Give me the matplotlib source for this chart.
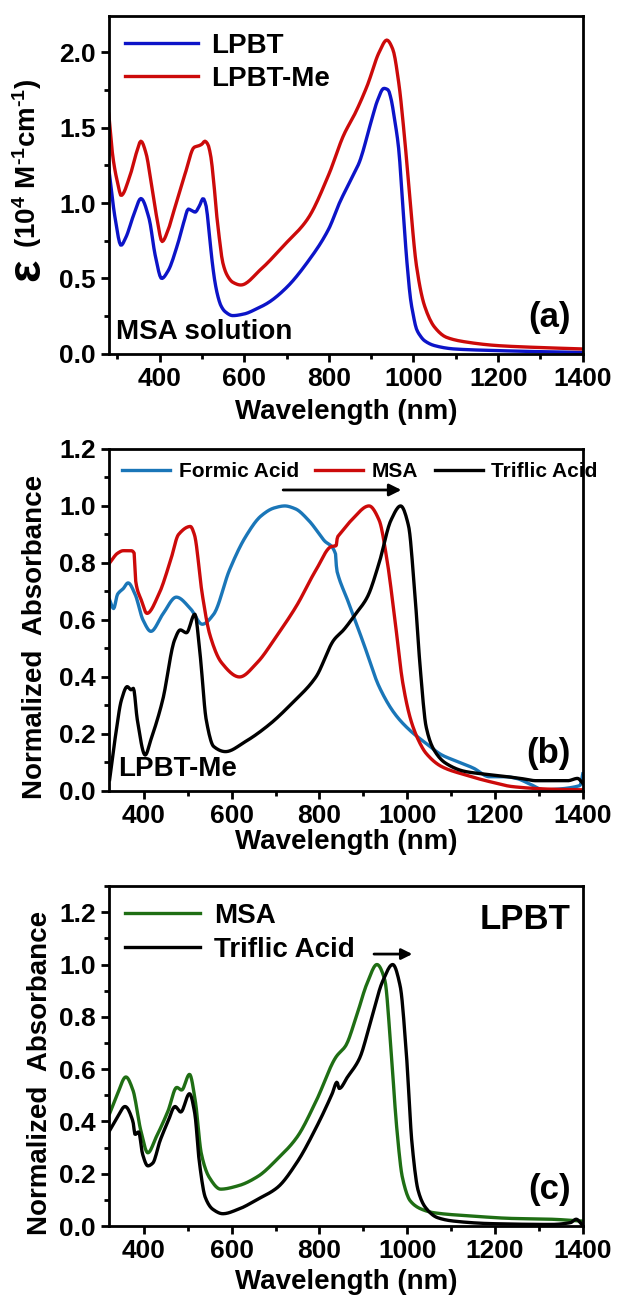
import numpy as np
import matplotlib
matplotlib.use("Agg")
import matplotlib.pyplot as plt
from matplotlib.ticker import MultipleLocator, FormatStrFormatter

plt.rcParams["font.family"] = ["Liberation Sans", "DejaVu Sans"]
plt.rcParams["font.weight"] = "bold"
plt.rcParams["mathtext.fontset"] = "custom"
plt.rcParams["mathtext.rm"] = "Liberation Sans:bold"
plt.rcParams["mathtext.it"] = "Liberation Sans:bold"
plt.rcParams["mathtext.bf"] = "Liberation Sans:bold"
plt.rcParams["mathtext.default"] = "rm"

# ---------------- (a) molar absorptivity in MSA ----------------
wl_lpbt = [280, 295, 309, 320, 340, 356, 375, 390, 405, 420, 442, 458, 468, 476, 484,
           494, 503, 510, 517, 524, 531, 538, 545, 555, 573, 600, 630, 657, 700, 750,
           800, 825, 853, 872, 900, 915, 930, 940, 947, 955, 965, 972, 979, 986, 993,
           1000, 1007, 1016, 1026, 1050, 1096, 1200, 1300, 1400]
eps_lpbt = [1.23, 0.90, 0.72, 0.77, 0.93, 1.03, 0.90, 0.65, 0.50, 0.55, 0.72, 0.88, 0.96,
            0.95, 0.94, 0.98, 1.03, 0.98, 0.81, 0.62, 0.475, 0.38, 0.32, 0.28, 0.254, 0.265,
            0.30, 0.34, 0.44, 0.61, 0.83, 1.00, 1.16, 1.27, 1.54, 1.68, 1.76, 1.75, 1.69,
            1.56, 1.36, 1.10, 0.81, 0.56, 0.365, 0.25, 0.166, 0.12, 0.088, 0.055, 0.033,
            0.022, 0.015, 0.01]

wl_lpbt_me = [280, 290, 302, 309, 330, 345, 356, 368, 381, 395, 406, 420, 433, 461, 482,
              493, 500, 507, 514, 521, 528, 535, 542, 549, 560, 573, 592, 639, 694, 750,
              800, 835, 863, 891, 919, 937, 951, 965, 979, 993, 1007, 1026, 1050, 1078,
              1129, 1200, 1283, 1400]
eps_lpbt_me = [1.59, 1.30, 1.12, 1.05, 1.18, 1.33, 1.41, 1.33, 1.12, 0.88, 0.745, 0.82,
               0.94, 1.20, 1.37, 1.38, 1.39, 1.41, 1.39, 1.31, 1.14, 0.92, 0.75, 0.61,
               0.52, 0.475, 0.457, 0.56, 0.72, 0.895, 1.19, 1.45, 1.60, 1.78, 2.00, 2.08,
               2.02, 1.80, 1.43, 0.98, 0.585, 0.32, 0.177, 0.11, 0.077, 0.055, 0.044, 0.033]

# ---------------- (b) LPBT-Me in three acids ----------------
wl_formic = [322, 331, 340, 353, 364, 380, 398, 416, 443, 474, 506, 533, 559, 595, 631,
             667, 697, 721, 745, 775, 810, 837, 839, 842, 864, 900, 936, 972, 1008, 1043,
             1079, 1115, 1151, 1187, 1223, 1249, 1276, 1312, 1348, 1384, 1394, 1400]
abs_formic = [0.67, 0.64, 0.69, 0.71, 0.73, 0.69, 0.60, 0.56, 0.62, 0.68, 0.64, 0.585,
              0.62, 0.775, 0.89, 0.965, 0.993, 1.00, 0.99, 0.95, 0.88, 0.83, 0.78, 0.76,
              0.67, 0.52, 0.366, 0.27, 0.21, 0.167, 0.126, 0.103, 0.08, 0.05, 0.05, 0.044,
              0.027, 0.004, 0.007, 0.015, 0.02, 0.06]

wl_msa_b = [322, 340, 353, 371, 378, 381, 394, 407, 434, 461, 479, 506, 515, 533, 550,
            577, 618, 658, 703, 748, 792, 828, 838, 841, 846, 873, 913, 936, 954, 972,
            990, 1008, 1025, 1043, 1079, 1133, 1187, 1241, 1330, 1400]
abs_msa_b = [0.80, 0.834, 0.843, 0.843, 0.834, 0.74, 0.67, 0.623, 0.69, 0.81, 0.90, 0.928,
             0.90, 0.69, 0.55, 0.45, 0.40, 0.45, 0.545, 0.65, 0.775, 0.858, 0.86, 0.89,
             0.90, 0.95, 1.00, 0.95, 0.81, 0.60, 0.378, 0.25, 0.18, 0.132, 0.085, 0.056,
             0.033, 0.015, 0.006, 0.004]

wl_triflic_b = [322, 335, 349, 362, 371, 376, 385, 403, 416, 443, 470, 483, 497, 516, 528,
                542, 559, 586, 631, 685, 739, 792, 833, 855, 882, 909, 936, 963, 985, 1003,
                1016, 1030, 1043, 1061, 1088, 1133, 1196, 1258, 1294, 1366, 1388, 1400]
abs_triflic_b = [0.04, 0.19, 0.32, 0.366, 0.355, 0.36, 0.25, 0.126, 0.18, 0.32, 0.53,
                 0.565, 0.555, 0.62, 0.48, 0.25, 0.156, 0.138, 0.173, 0.232, 0.31, 0.40,
                 0.53, 0.565, 0.62, 0.68, 0.80, 0.95, 1.00, 0.93, 0.72, 0.425, 0.226,
                 0.144, 0.097, 0.068, 0.056, 0.044, 0.036, 0.036, 0.044, 0.027]

# ---------------- (c) LPBT in two acids ----------------
wl_msa_c = [322, 340, 359, 375, 393, 409, 428, 455, 475, 486, 504, 517, 531, 549, 575,
            615, 660, 704, 749, 793, 838, 860, 882, 909, 931, 949, 962, 976, 989, 1007,
            1033, 1060, 1149, 1238, 1327, 1398]
abs_msa_c = [0.43, 0.506, 0.57, 0.52, 0.365, 0.28, 0.34, 0.44, 0.53, 0.52, 0.58, 0.48,
             0.276, 0.186, 0.141, 0.154, 0.19, 0.256, 0.34, 0.48, 0.647, 0.69, 0.79, 0.93,
             1.00, 0.94, 0.70, 0.378, 0.186, 0.096, 0.064, 0.051, 0.038, 0.029, 0.026, 0.019]

wl_triflic_c = [322, 340, 357, 375, 380, 388, 397, 409, 420, 437, 455, 471, 484, 504, 516,
                526, 540, 557, 580, 615, 660, 704, 749, 793, 829, 840, 845, 864, 891, 918,
                944, 967, 984, 998, 1011, 1025, 1042, 1069, 1105, 1194, 1327, 1372, 1385, 1398]
abs_triflic_c = [0.365, 0.417, 0.457, 0.40, 0.35, 0.36, 0.275, 0.23, 0.24, 0.327, 0.40,
                 0.457, 0.436, 0.506, 0.43, 0.25, 0.109, 0.064, 0.047, 0.064, 0.103, 0.147,
                 0.244, 0.378, 0.506, 0.55, 0.526, 0.57, 0.64, 0.79, 0.936, 1.00, 0.917,
                 0.66, 0.314, 0.135, 0.07, 0.032, 0.019, 0.009, 0.006, 0.013, 0.026, 0.006]


def smooth(x, y, n=400):
    """Monotone cubic (PCHIP-like) resampling so the traces look continuous."""
    x = np.asarray(x, float)
    y = np.asarray(y, float)
    h = np.diff(x)
    d = np.diff(y) / h
    m = np.zeros_like(y)
    for k in range(1, len(x) - 1):
        if d[k - 1] * d[k] > 0:
            w1 = 2 * h[k] + h[k - 1]
            w2 = h[k] + 2 * h[k - 1]
            m[k] = (w1 + w2) / (w1 / d[k - 1] + w2 / d[k])
    m[0], m[-1] = d[0], d[-1]
    xs = np.linspace(x[0], x[-1], n)
    idx = np.clip(np.searchsorted(x, xs) - 1, 0, len(x) - 2)
    t = (xs - x[idx]) / h[idx]
    h00 = 2 * t**3 - 3 * t**2 + 1
    h10 = t**3 - 2 * t**2 + t
    h01 = -2 * t**3 + 3 * t**2
    h11 = t**3 - t**2
    ys = (h00 * y[idx] + h10 * h[idx] * m[idx] + h01 * y[idx + 1]
          + h11 * h[idx] * m[idx + 1])
    return xs, ys


BLUE = "#0c14c8"
RED = "#cc0a0a"
FORMIC = "#1a76b8"
GREEN = "#1f6e14"
LW = 2.4
TICK_FS = 19
HY = "\u2010"  # typographic hyphen used in the unit superscripts

fig = plt.figure(figsize=(6.18, 12.96), dpi=100)
left, width = 0.176, 0.767
ax_a = fig.add_axes([left, 0.7269, width, 0.2608])
ax_b = fig.add_axes([left, 0.3897, width, 0.2639])
ax_c = fig.add_axes([left, 0.0540, width, 0.2623])


def style(ax, xmin, ymax, ymajor, yminor):
    ax.set_xlim(xmin, 1400)
    ax.set_ylim(0, ymax)
    ax.xaxis.set_major_locator(MultipleLocator(200))
    ax.xaxis.set_minor_locator(MultipleLocator(100))
    ax.yaxis.set_major_locator(MultipleLocator(ymajor))
    ax.yaxis.set_minor_locator(MultipleLocator(yminor))
    ax.yaxis.set_major_formatter(FormatStrFormatter("%.1f"))
    ax.tick_params(which="both", direction="out", top=False, right=False,
                   labelsize=TICK_FS, width=2.0)
    ax.tick_params(which="major", length=6)
    ax.tick_params(which="minor", length=3.5)
    for s in ax.spines.values():
        s.set_linewidth(2.0)
    for lab in ax.get_xticklabels() + ax.get_yticklabels():
        lab.set_fontweight("bold")


# (a)
ax_a.plot(*smooth(wl_lpbt, eps_lpbt), color=BLUE, lw=LW, label="LPBT")
ax_a.plot(*smooth(wl_lpbt_me, eps_lpbt_me), color=RED, lw=LW, label="LPBT-Me")
style(ax_a, 280, 2.24, 0.5, 0.25)
ax_a.legend(loc="upper left", frameon=False, fontsize=20, handlelength=2.6,
            handletextpad=0.5, labelspacing=0.25, borderaxespad=0.2,
            bbox_to_anchor=(0.0, 1.0))
ax_a.text(0.015, 0.025, "MSA solution", transform=ax_a.transAxes, fontsize=20,
          fontweight="bold", ha="left", va="bottom")
ax_a.text(0.975, 0.06, "(a)", transform=ax_a.transAxes, fontsize=25,
          fontweight="bold", ha="right", va="bottom")
ax_a.set_xlabel("Wavelength (nm)", fontsize=20, fontweight="bold")
ax_a.xaxis.set_label_coords(0.5, -0.172)
ax_a.xaxis.label.set_va("center")
ax_a.text(-0.172, 0.565, f"(10$^4$ M$^{{{HY}1}}$cm$^{{{HY}1}}$)",
          transform=ax_a.transAxes, rotation=90, fontsize=20, fontweight="bold",
          ha="center", va="center")
ax_a.text(-0.172, 0.25, "ε", transform=ax_a.transAxes, rotation=90, fontsize=34,
          fontweight="bold", ha="center", va="center")

# (b)
ax_b.plot(*smooth(wl_formic, abs_formic, 600), color=FORMIC, lw=LW, label="Formic Acid")
ax_b.plot(*smooth(wl_msa_b, abs_msa_b, 600), color=RED, lw=LW, label="MSA")
ax_b.plot(*smooth(wl_triflic_b, abs_triflic_b, 600), color="black", lw=LW,
          label="Triflic Acid")
style(ax_b, 320, 1.2, 0.2, 0.1)
ax_b.legend(loc="upper left", frameon=False, fontsize=15, ncol=3, handlelength=2.3,
            handletextpad=0.4, columnspacing=0.8, borderaxespad=0.25,
            bbox_to_anchor=(0.0, 1.0))
ax_b.annotate("", xy=(993, 1.056), xytext=(711, 1.056),
              arrowprops=dict(arrowstyle="-|>", color="black", lw=2.0,
                              mutation_scale=18))
ax_b.text(0.02, 0.025, "LPBT-Me", transform=ax_b.transAxes, fontsize=20,
          fontweight="bold", ha="left", va="bottom")
ax_b.text(0.975, 0.06, "(b)", transform=ax_b.transAxes, fontsize=25,
          fontweight="bold", ha="right", va="bottom")
ax_b.set_xlabel("Wavelength (nm)", fontsize=20, fontweight="bold")
ax_b.xaxis.set_label_coords(0.5, -0.149)
ax_b.xaxis.label.set_va("center")
ax_b.set_ylabel("Normalized  Absorbance", fontsize=20, fontweight="bold")
ax_b.yaxis.set_label_coords(-0.156, 0.45)
ax_b.yaxis.label.set_va("center")

# (c)
ax_c.plot(*smooth(wl_msa_c, abs_msa_c, 600), color=GREEN, lw=LW, label="MSA")
ax_c.plot(*smooth(wl_triflic_c, abs_triflic_c, 600), color="black", lw=LW,
          label="Triflic Acid")
style(ax_c, 320, 1.3, 0.2, 0.1)
ax_c.legend(loc="upper left", frameon=False, fontsize=20, handlelength=2.7,
            handletextpad=0.5, labelspacing=0.3, borderaxespad=0.2,
            bbox_to_anchor=(0.0, 1.0))
ax_c.annotate("", xy=(1018, 1.04), xytext=(918, 1.04),
              arrowprops=dict(arrowstyle="-|>", color="black", lw=2.0,
                              mutation_scale=16))
ax_c.text(0.975, 0.95, "LPBT", transform=ax_c.transAxes, fontsize=25,
          fontweight="bold", ha="right", va="top")
ax_c.text(0.975, 0.06, "(c)", transform=ax_c.transAxes, fontsize=25,
          fontweight="bold", ha="right", va="bottom")
ax_c.set_xlabel("Wavelength (nm)", fontsize=20, fontweight="bold")
ax_c.xaxis.set_label_coords(0.5, -0.165)
ax_c.xaxis.label.set_va("center")
ax_c.set_ylabel("Normalized  Absorbance", fontsize=20, fontweight="bold")
ax_c.yaxis.set_label_coords(-0.146, 0.45)
ax_c.yaxis.label.set_va("center")

fig.savefig("out.png", dpi=100)
